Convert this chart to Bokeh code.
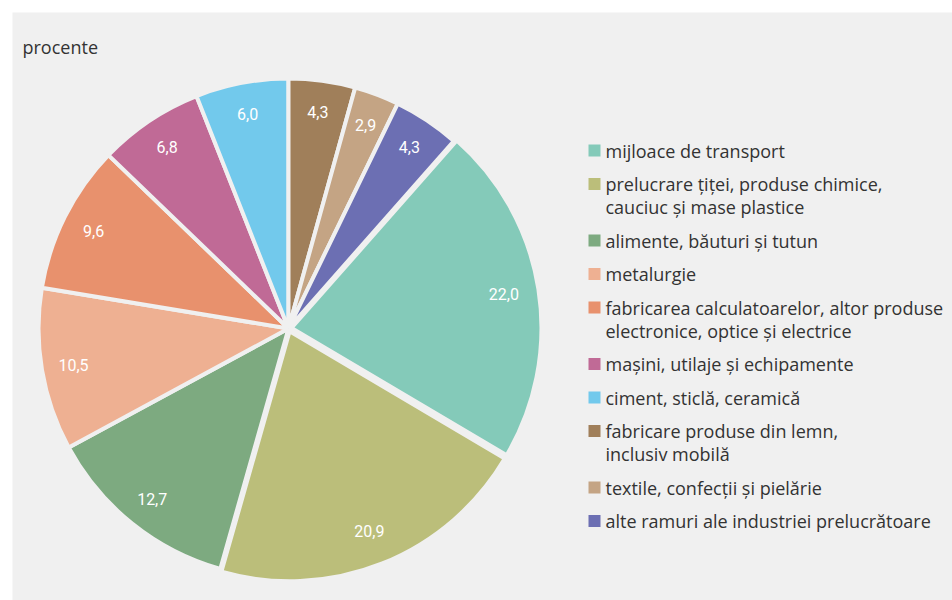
import numpy as np
from bokeh.plotting import figure
from bokeh.models import Range1d, ColumnDataSource
from bokeh.core.properties import value
from bokeh.embed import file_html
from bokeh.resources import INLINE

# ---- data ----
categories = [
    "mijloace de transport",
    "prelucrare țiței, produse chimice,\ncauciuc și mase plastice",
    "alimente, băuturi și tutun",
    "metalurgie",
    "fabricarea calculatoarelor, altor produse\nelectronice, optice și electrice",
    "mașini, utilaje și echipamente",
    "ciment, sticlă, ceramică",
    "fabricare produse din lemn,\ninclusiv mobilă",
    "textile, confecții și pielărie",
    "alte ramuri ale industriei prelucrătoare",
]
values = [22.0, 20.9, 12.7, 10.5, 9.6, 6.8, 6.0, 4.3, 2.9, 4.3]
colors = ["#84CAB9", "#BBBE7A", "#7DAA80", "#EEB092", "#E8916D",
          "#C06A96", "#72C9EC", "#A07F5A", "#C4A484", "#6C6FB3"]
unit_label = "procente"

# ---- layout ----
BG = "#F0F0F0"
W, H = 952, 600
FW, FH = 940, 588
CX, CY, R = 276, FH - 316, 250
LABEL_R = 218

vals = np.array(values)
frac = vals / vals.sum()
theta0 = np.radians(48.6)
cum = np.concatenate([[0], np.cumsum(frac)[:-1]])
starts = theta0 - 2 * np.pi * cum
ends = starts - 2 * np.pi * frac
mids = (starts + ends) / 2
explode = np.array([3.0 if i < 2 else 0.0 for i in range(len(vals))])

src = ColumnDataSource(dict(
    x=CX + explode * np.cos(mids),
    y=CY + explode * np.sin(mids),
    start=starts, end=ends, color=colors,
    lx=CX + LABEL_R * np.cos(mids),
    ly=CY + LABEL_R * np.sin(mids),
    lab=[f"{v:.1f}".replace(".", ",") for v in values],
))

p = figure(width=W, height=H, output_backend="svg", toolbar_location=None,
           x_range=Range1d(0, FW), y_range=Range1d(0, FH),
           x_axis_location=None, y_axis_location=None,
           min_border_left=12, min_border_top=12, min_border_right=0, min_border_bottom=0,
           background_fill_color=BG, border_fill_color="white", outline_line_color=None)
p.grid.visible = False

p.wedge(x="x", y="y", radius=R, start_angle="start", end_angle="end",
        direction="clock", fill_color="color", line_color=BG, line_width=4, source=src)

p.text(x="lx", y="ly", text="lab", source=src, text_color="white",
       text_font=value("Roboto"),
       text_font_size="16px", text_align="center", text_baseline="middle")

# unit label
p.text(x=[10], y=[FH - 34], text=[unit_label], text_color="#333333",
       text_font=value("Open Sans"), text_font_size="18px",
       text_align="left", text_baseline="middle")

# legend
sq_x, sq_y = [], []
lines_x, lines_y, lines_t = [], [], []
y = FH - 138
for cat in categories:
    parts = cat.split("\n")
    sq_x.append(582)
    sq_y.append(y)
    for k, part in enumerate(parts):
        lines_x.append(593)
        lines_y.append(y - 23 * k)
        lines_t.append(part)
    y -= 33.5 + 23 * (len(parts) - 1)

p.rect(x=sq_x, y=sq_y, width=12, height=12, fill_color=colors, line_color=None)
p.text(x=lines_x, y=lines_y, text=lines_t, text_color="#333333",
       text_font=value("Open Sans"), text_font_size="18px",
       text_align="left", text_baseline="middle")

open("out.html", "w").write(file_html(p, INLINE))
